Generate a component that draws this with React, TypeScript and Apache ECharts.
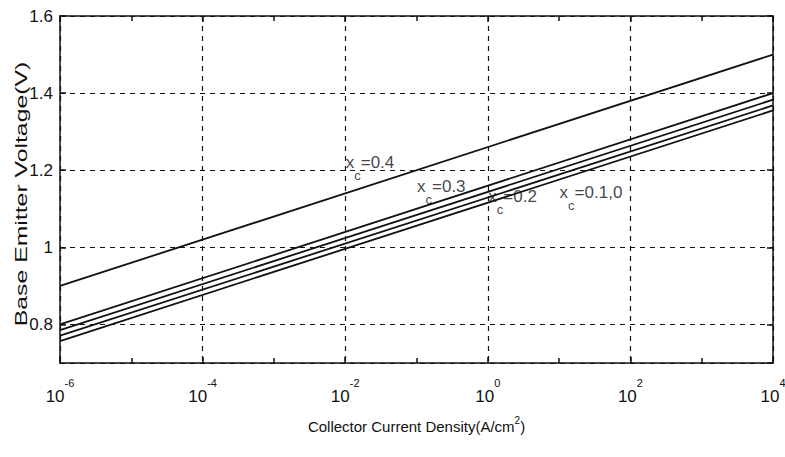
import React, { useEffect, useRef } from "react";
import * as echarts from "echarts";

// Collector current density end points (A/cm^2)
const densityRange = [1e-6, 1e4];
// Compositions x_c
const compositions = ["0.4", "0.3", "0.2", "0.1", "0"];
// Base-emitter voltage at the two ends (V)
const vbeStart = [0.9, 0.8, 0.785, 0.771, 0.757];
const vbeEnd = [1.5, 1.4, 1.383, 1.368, 1.355];

// Curve annotations
const annotationTexts = ["0.4", "0.3", "0.2", "0.1,0"];
const annotationX = [1e-2, 1e-1, 1e0, 1e1];
const annotationY = [1.217, 1.155, 1.128, 1.138];

const xMinExp = -6;
const xMaxExp = 4;
const yMin = 0.7;
const yMax = 1.6;

const FONT = "'Liberation Sans', Arial, sans-serif";

export default function App() {
  const ref = useRef<HTMLDivElement>(null);
  useEffect(() => {
    if (!ref.current) return;
    const chart = echarts.init(ref.current, undefined, { renderer: "svg" });
    const lineSeries = compositions.map((c, i) => ({
      type: "line",
      name: "xc=" + c,
      data: [
        [Math.log10(densityRange[0]), vbeStart[i]],
        [Math.log10(densityRange[1]), vbeEnd[i]],
      ],
      showSymbol: false,
      symbol: "none",
      lineStyle: { color: "#111", width: 1.8 },
      silent: true,
    }));
    const annot = {
      type: "scatter",
      symbolSize: 1,
      itemStyle: { color: "transparent" },
      silent: true,
      data: annotationTexts.map((t, i) => ({
        value: [Math.log10(annotationX[i]), annotationY[i]],
        label: {
          show: true,
          position: "right",
          distance: 0,
          offset: [0, 4],
          formatter: "{m|x}{sub|c}{m|=" + t + "}",
          rich: {
            sub: {
              fontFamily: FONT,
              fontSize: 13,
              color: "#111",
              lineHeight: 28,
              verticalAlign: "bottom",
            },
            m: {
              fontFamily: FONT,
              fontSize: 17,
              color: "#111",
              lineHeight: 28,
              verticalAlign: "top",
            },
          },
        },
      })),
    };
    const axisLine = { show: true, onZero: false, lineStyle: { color: "#111", width: 1.5 } };
    const tickStyle = { color: "#111", width: 1.5 };
    chart.setOption({
      animation: false,
      backgroundColor: "#fff",
      grid: {
        left: 60,
        right: 12,
        top: 16,
        bottom: 94,
        containLabel: false,
        outerBoundsMode: "none",
      },
      graphic: [
        {
          type: "text",
          x: 21,
          y: 194,
          rotation: Math.PI / 2,
          scaleX: 1.55,
          style: {
            text: "Base Emitter Voltage(V)",
            font: "16px " + FONT,
            fill: "#111",
            textAlign: "center",
            textVerticalAlign: "middle",
          },
        },
      ],
      xAxis: [
        {
          type: "value",
          min: xMinExp,
          max: xMaxExp,
          interval: 2,
          axisLine,
          axisTick: { show: true, inside: true, length: 6, lineStyle: tickStyle },
          minorTick: { show: true, splitNumber: 2, length: 5, lineStyle: tickStyle },
          splitLine: {
            show: true,
            lineStyle: { color: "#111", type: [5, 5], width: 1.2 },
          },
          axisLabel: {
            margin: 14,
            formatter: (v: number) => "{b|10}{s|" + v + "}",
            rich: {
              b: {
                fontFamily: FONT,
                fontSize: 17,
                color: "#111",
                lineHeight: 28,
                verticalAlign: "bottom",
              },
              s: {
                fontFamily: FONT,
                fontSize: 11,
                color: "#111",
                lineHeight: 28,
                verticalAlign: "top",
              },
            },
          },
          name: "Collector Current Density(A/cm{sup|2})",
          nameLocation: "middle",
          nameGap: 52,
          nameTextStyle: {
            fontFamily: FONT,
            fontSize: 15,
            color: "#111",
            lineHeight: 22,
            rich: {
              sup: {
                fontFamily: FONT,
                fontSize: 10,
                color: "#111",
                verticalAlign: "top",
                lineHeight: 22,
              },
            },
          },
        },
        {
          type: "value",
          position: "top",
          min: xMinExp,
          max: xMaxExp,
          interval: 2,
          axisLine,
          axisTick: { show: true, inside: true, length: 6, lineStyle: tickStyle },
          minorTick: { show: true, splitNumber: 2, length: 5, lineStyle: tickStyle },
          splitLine: { show: false },
          axisLabel: { show: false },
        },
      ],
      yAxis: [
        {
          type: "value",
          min: yMin,
          max: yMax,
          splitNumber: 5,
          axisLine,
          axisTick: { show: true, inside: true, length: 6, lineStyle: tickStyle },
          splitLine: {
            show: true,
            lineStyle: { color: "#111", type: [5, 5], width: 1.2 },
          },
          axisLabel: {
            showMinLabel: false,
            margin: 7,
            fontFamily: FONT,
            fontSize: 17,
            color: "#111",
          },
        },
        {
          type: "value",
          position: "right",
          min: yMin,
          max: yMax,
          splitNumber: 5,
          axisLine,
          axisTick: { show: true, inside: true, length: 6, lineStyle: tickStyle },
          splitLine: { show: false },
          axisLabel: { show: false },
        },
      ],
      series: [...lineSeries, annot],
    });
    return () => chart.dispose();
  }, []);
  return <div ref={ref} style={{ width: 785, height: 457, position: "absolute", left: 0, top: 0 }} />;
}
